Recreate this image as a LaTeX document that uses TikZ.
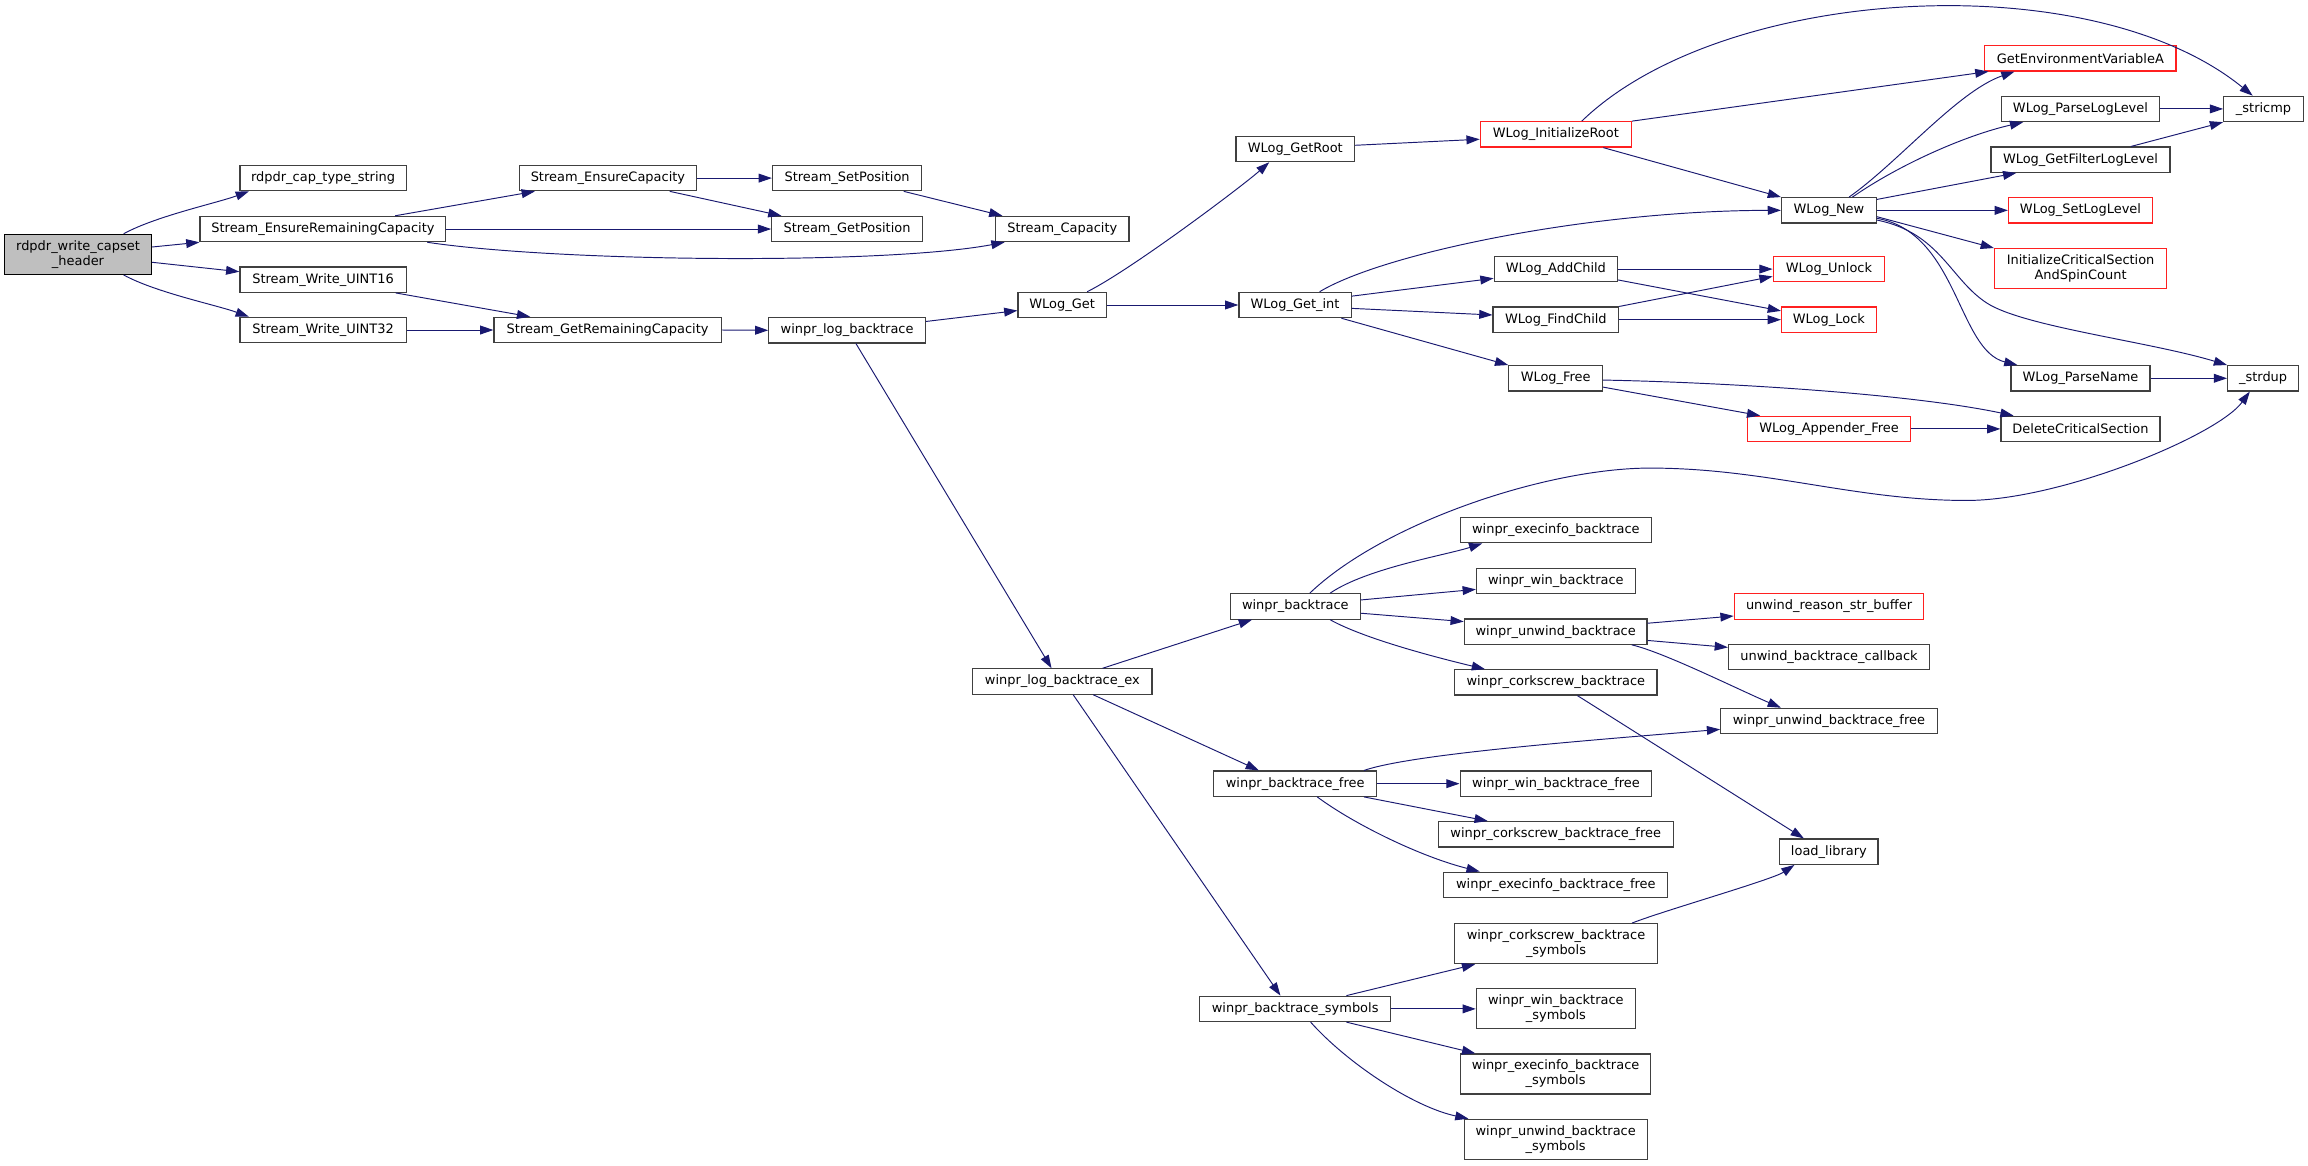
\documentclass[tikz,border=0pt]{standalone}
\usepackage{fontspec}
\setmainfont{DejaVu Sans}
\usepackage{tikz}
\usetikzlibrary{arrows.meta}
\definecolor{grey25}{HTML}{404040}
\definecolor{grey75}{HTML}{BFBFBF}
\definecolor{edgeblue}{HTML}{191970}
\definecolor{doxred}{HTML}{FF2020}

\begin{document}
\begin{tikzpicture}[x=1pt, y=-1pt,
        fn/.style={draw=grey25, line width=0.8pt, inner sep=0pt, minimum height=17.2pt, align=center, font=\fontsize{8.8}{10}\selectfont},
        fnred/.style={fn, draw=doxred},
        twoline/.style={minimum height=27.2pt},
        edge/.style={draw=edgeblue, line width=0.65pt, -{Triangle[length=9pt,width=6pt]}}
    ]
        \useasboundingbox (0,0) rectangle (1568,792);

        % Stream nodes
        \node[fn, twoline, fill=grey75, draw=black, minimum width=100pt] (root) at (53,172.8) {rdpdr\_write\_capset\\\_header};
        \node[fn, minimum width=113pt] (capstr) at (219.5,121) {rdpdr\_cap\_type\_string};
        \node[fn, minimum width=167pt] (ensrem) at (219.4,155.6) {Stream\_EnsureRemainingCapacity};
        \node[fn, minimum width=113pt] (wrsixteen) at (219.5,190) {Stream\_Write\_UINT16};
        \node[fn, minimum width=113pt] (wrthirtytwo) at (219.5,224.2) {Stream\_Write\_UINT32};
        \node[fn, minimum width=120.4pt] (enscap) at (413,121) {Stream\_EnsureCapacity};
        \node[fn, minimum width=154.4pt] (getrem) at (412.8,224.2) {Stream\_GetRemainingCapacity};
        \node[fn, minimum width=101.4pt] (setpos) at (575.5,121) {Stream\_SetPosition};
        \node[fn, minimum width=102.4pt] (getpos) at (575.5,155.6) {Stream\_GetPosition};
        \node[fn, minimum width=90.6pt] (cap) at (721.7,155.6) {Stream\_Capacity};
        \node[fn, minimum width=106.3pt] (logbt) at (575.5,224.4) {winpr\_log\_backtrace};

        % WLog nodes
        \node[fn, minimum width=60pt] (wget) at (721.6,207.2) {WLog\_Get};
        \node[fn, minimum width=80.6pt] (getroot) at (880,101.2) {WLog\_GetRoot};
        \node[fn, minimum width=76.2pt] (getint) at (879.8,207.2) {WLog\_Get\_int};
        \node[fnred, minimum width=102.7pt] (initroot) at (1057,91.3) {WLog\_InitializeRoot};
        \node[fn, minimum width=83.8pt] (addchild) at (1057,182.8) {WLog\_AddChild};
        \node[fn, minimum width=85.3pt] (findchild) at (1057,217.2) {WLog\_FindChild};
        \node[fn, minimum width=63.7pt] (wfree) at (1056.9,257) {WLog\_Free};
        \node[fn, minimum width=64.3pt] (wnew) at (1242.5,142.9) {WLog\_New};
        \node[fnred, minimum width=75.7pt] (unlock) at (1242.5,182.8) {WLog\_Unlock};
        \node[fnred, minimum width=64.3pt] (lock) at (1242.5,217.2) {WLog\_Lock};
        \node[fnred, minimum width=110.7pt] (appfree) at (1242.6,291.4) {WLog\_Appender\_Free};
        \node[fnred, minimum width=130pt] (getenv) at (1413.3,39.6) {GetEnvironmentVariableA};
        \node[fn, minimum width=107.8pt] (parselvl) at (1413.4,74) {WLog\_ParseLogLevel};
        \node[fn, minimum width=121.6pt] (filterlvl) at (1413.4,108.5) {WLog\_GetFilterLogLevel};
        \node[fnred, minimum width=97.8pt] (setlvl) at (1413.4,142.9) {WLog\_SetLogLevel};
        \node[fnred, twoline, minimum width=117pt] (initcs) at (1413.5,182.5) {InitializeCriticalSection\\AndSpinCount};
        \node[fn, minimum width=94.4pt] (parsename) at (1413.4,257) {WLog\_ParseName};
        \node[fn, minimum width=108pt] (delcs) at (1413.4,291.4) {DeleteCriticalSection};
        \node[fn, minimum width=54.2pt] (stricmp) at (1537.8,74) {\_stricmp};
        \node[fn, minimum width=48.2pt] (strdup) at (1537.5,257) {\_strdup};

        % backtrace nodes
        \node[fn, minimum width=121.8pt] (btex) at (721.7,463) {winpr\_log\_backtrace\_ex};
        \node[fn, minimum width=88pt] (bt) at (880,412) {winpr\_backtrace};
        \node[fn, minimum width=110.5pt] (btfree) at (879.9,532.4) {winpr\_backtrace\_free};
        \node[fn, minimum width=129.7pt] (btsym) at (879.9,685.4) {winpr\_backtrace\_symbols};
        \node[fn, minimum width=129.8pt] (exbt) at (1057,360.2) {winpr\_execinfo\_backtrace};
        \node[fn, minimum width=107.9pt] (winbt) at (1057,394.7) {winpr\_win\_backtrace};
        \node[fn, minimum width=124.1pt] (unwbt) at (1056.9,429.1) {winpr\_unwind\_backtrace};
        \node[fn, minimum width=137.5pt] (corkbt) at (1057,463.6) {winpr\_corkscrew\_backtrace};
        \node[fnred, minimum width=128.8pt] (reason) at (1242.6,412) {unwind\_reason\_str\_buffer};
        \node[fn, minimum width=136.6pt] (callback) at (1242.6,446.3) {unwind\_backtrace\_callback};
        \node[fn, minimum width=147pt] (unwfree) at (1242.5,489.8) {winpr\_unwind\_backtrace\_free};
        \node[fn, minimum width=130.3pt] (winfree) at (1057.1,532.4) {winpr\_win\_backtrace\_free};
        \node[fn, minimum width=159.5pt] (corkfree) at (1056.9,566.8) {winpr\_corkscrew\_backtrace\_free};
        \node[fn, minimum width=152.2pt] (exfree) at (1057,601.1) {winpr\_execinfo\_backtrace\_free};
        \node[fn, minimum width=66.6pt] (loadlib) at (1242.5,578.6) {load\_library};
        \node[fn, twoline, minimum width=138pt] (corksym) at (1057.1,641.1) {winpr\_corkscrew\_backtrace\\\_symbols};
        \node[fn, twoline, minimum width=108pt] (winsym) at (1057,685.4) {winpr\_win\_backtrace\\\_symbols};
        \node[fn, twoline, minimum width=129.5pt] (exsym) at (1056.8,729.6) {winpr\_execinfo\_backtrace\\\_symbols};
        \node[fn, twoline, minimum width=124.3pt] (unwsym) at (1056.9,774) {winpr\_unwind\_backtrace\\\_symbols};

        % Edges from the stream part
        \draw[edge] ([xshift=31pt]root.north) .. controls +(22,-12) and +(-22,8) .. ([xshift=6.5pt]capstr.south west);
        \draw[edge] ([yshift=5pt]root.east) -- (ensrem.south west);
        \draw[edge] ([yshift=-5.4pt]root.east) -- ([yshift=5.4pt]wrsixteen.west);
        \draw[edge] ([xshift=31pt]root.south) .. controls +(22,12) and +(-22,-8) .. ([xshift=6.5pt]wrthirtytwo.north west);
        \draw[edge] ([xshift=49pt]ensrem.north) -- ([xshift=11pt]enscap.south west);
        \draw[edge] (ensrem.east) -- (getpos.west);
        \draw[edge] ([xshift=-13pt]ensrem.south east) .. controls (380,178) and (600,180) .. ([xshift=6.5pt]cap.south west);
        \draw[edge] (enscap.east) -- (setpos.west);
        \draw[edge] ([xshift=-18.6pt]enscap.south east) -- ([xshift=7pt]getpos.north west);
        \draw[edge] ([xshift=-12.6pt]setpos.south east) -- ([xshift=5pt]cap.north west);
        \draw[edge] ([xshift=-7.6pt]wrsixteen.south east) -- ([xshift=25pt]getrem.north west);
        \draw[edge] (wrthirtytwo.east) -- (getrem.west);
        \draw[edge] (getrem.east) -- (logbt.west);
        \draw[edge] ([yshift=6pt]logbt.east) -- ([yshift=-3.8pt]wget.west);
        \draw[edge] ([xshift=6pt]logbt.south) -- ([xshift=-7.3pt]btex.north);

        % Edges from the WLog part
        \draw[edge] ([xshift=17pt]wget.north) .. controls +(30,-15) and +(-18,16) .. ([xshift=23pt]getroot.south west);
        \draw[edge] (wget.east) -- (getint.west);
        \draw[edge] ([yshift=2.5pt]getroot.east) -- ([yshift=-3.3pt]initroot.west);
        \draw[edge] ([xshift=17.6pt]initroot.north) .. controls (1170,-10) and (1420,-25) .. ([xshift=-7.4pt]stricmp.north);
        \draw[edge] (initroot.north east) -- ([xshift=3pt]getenv.south west);
        \draw[edge] ([xshift=-19.5pt]initroot.south east) -- (wnew.north west);
        \draw[edge] ([xshift=16.7pt]getint.north) .. controls (940,172) and (1080,143) .. (wnew.west);
        \draw[edge] ([yshift=-3pt]getint.north east) -- ([yshift=-6.3pt]addchild.west);
        \draw[edge] ([yshift=-2.3pt]getint.east) -- ([yshift=3.2pt]findchild.west);
        \draw[edge] ([xshift=-7pt]getint.south east) -- (wfree.north west);
        \draw[edge] (addchild.east) -- (unlock.west);
        \draw[edge] ([yshift=-7.4pt]addchild.east) -- ([yshift=-3pt]lock.north west);
        \draw[edge] (findchild.north east) -- ([yshift=-5pt]unlock.west);
        \draw[edge] (findchild.east) -- (lock.west);
        \draw[edge] ([yshift=-1.2pt]wfree.east) .. controls (1180,260) and (1300,268) .. ([xshift=9pt]delcs.north west);
        \draw[edge] ([yshift=-6pt]wfree.east) -- ([xshift=9pt]appfree.north west);
        \draw[edge] (appfree.east) -- (delcs.west);
        \draw[edge] ([xshift=13.7pt]wnew.north) .. controls (1290,110) and (1330,62) .. ([xshift=20.7pt]getenv.south west);
        \draw[edge] ([xshift=16pt]wnew.north) .. controls (1290,112) and (1335,92) .. ([xshift=15.4pt]parselvl.south west);
        \draw[edge] ([yshift=-1.6pt]wnew.north east) -- ([xshift=17.6pt]filterlvl.south west);
        \draw[edge] (wnew.east) -- (setlvl.west);
        \draw[edge] ([yshift=-4.3pt]wnew.east) -- (initcs.north west);
        \draw[edge] ([yshift=-5.4pt]wnew.east) .. controls (1330,158) and (1330,238) .. ([xshift=4.8pt]parsename.north west);
        \draw[edge] ([yshift=-6.6pt]wnew.east) .. controls (1318,158) and (1325,190) .. (1350,206) .. controls (1375,222) and (1460,232) .. (strdup.north west);
        \draw[edge] (parselvl.east) -- (stricmp.west);
        \draw[edge] ([xshift=-26.9pt]filterlvl.north east) -- (stricmp.south west);
        \draw[edge] (parsename.east) -- (strdup.west);

        % Edges from the backtrace part
        \draw[edge] ([xshift=27.4pt]btex.north) -- ([xshift=15pt]bt.south west);
        \draw[edge] ([xshift=21pt]btex.south) -- ([xshift=31pt]btfree.north west);
        \draw[edge] ([xshift=7.4pt]btex.south) -- ([xshift=-10pt]btsym.north);
        \draw[edge] ([xshift=9.8pt]bt.north) .. controls (940,355) and (1051,318) .. (1121,318) .. controls (1200,318) and (1260,340) .. (1336,340) .. controls (1400,340) and (1506.5,296) .. ([xshift=-9pt]strdup.south);
        \draw[edge] ([xshift=23.6pt]bt.north) .. controls +(25,-17) and +(-25,8) .. ([xshift=15.3pt]exbt.south west);
        \draw[edge] ([yshift=4.4pt]bt.east) -- ([yshift=-5.7pt]winbt.west);
        \draw[edge] ([yshift=-4.6pt]bt.east) -- ([yshift=6.8pt]unwbt.west);
        \draw[edge] ([xshift=23.6pt]bt.south) .. controls +(25,14) and +(-25,-6) .. ([xshift=21pt]corkbt.north west);
        \draw[edge] ([yshift=5.7pt]unwbt.east) -- ([yshift=-6.5pt]reason.west);
        \draw[edge] ([yshift=-6pt]unwbt.east) -- ([yshift=6.5pt]callback.west);
        \draw[edge] ([xshift=-10.8pt]unwbt.south east) .. controls (1130,443) and (1180,468) .. ([xshift=41.3pt]unwfree.north west);
        \draw[edge] ([xshift=14.7pt]corkbt.south) -- ([xshift=16.7pt]loadlib.north west);
        \draw[edge] ([xshift=-8.9pt]btfree.north east) .. controls (960,512) and (1080,503) .. ([yshift=-5.7pt]unwfree.west);
        \draw[edge] (btfree.east) -- (winfree.west);
        \draw[edge] ([xshift=-8.9pt]btfree.south east) -- ([xshift=34pt]corkfree.north west);
        \draw[edge] ([xshift=15pt]btfree.south) .. controls (920,560) and (965,582) .. ([xshift=24.8pt]exfree.north west);
        \draw[edge] ([xshift=34.8pt]btsym.north) -- ([xshift=14.5pt]corksym.south west);
        \draw[edge] (btsym.east) -- (winsym.west);
        \draw[edge] ([xshift=34.8pt]btsym.south) -- ([xshift=10.6pt]exsym.north west);
        \draw[edge] ([xshift=10.5pt]btsym.south) .. controls (915,722) and (960,752) .. ([xshift=3.3pt]unwsym.north west);
        \draw[edge] ([xshift=51.7pt]corksym.north) .. controls +(20,-8) and +(-15,10) .. ([xshift=10.3pt]loadlib.south west);
    \end{tikzpicture}
\end{document}
